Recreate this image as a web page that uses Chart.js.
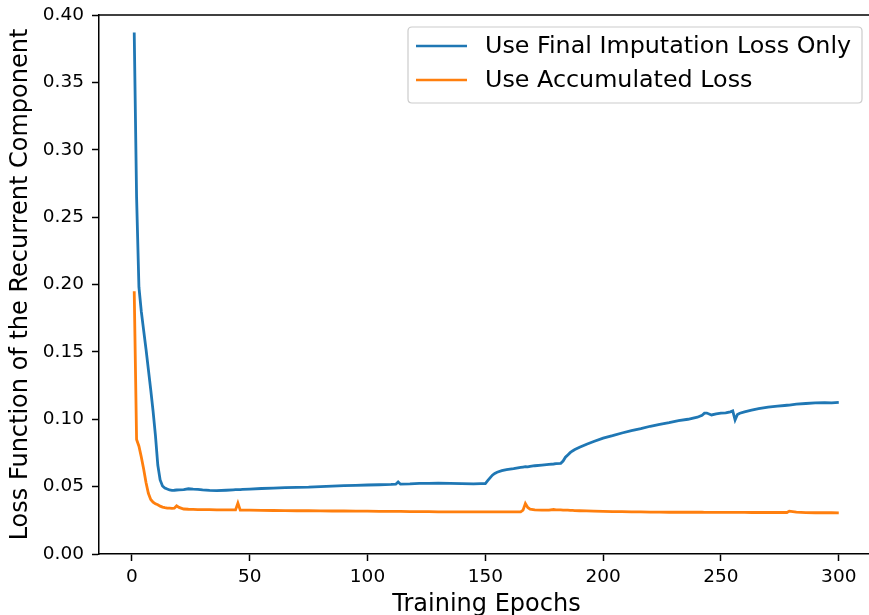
<!DOCTYPE html>
<html>
<head>
<meta charset="utf-8">
<script src="https://cdn.jsdelivr.net/npm/chart.js@4"></script>
<style>
html,body{margin:0;padding:0;background:#fff;overflow:hidden;}
#wrap{width:869px;height:615px;overflow:hidden;position:relative;}
canvas{display:block;}
</style>
</head>
<body>
<div id="wrap"><canvas id="c" width="880" height="640" style="width:880px;height:640px"></canvas></div>
<script>
const epochs = [1,2,3,4,5,6,7,8,9,10,11,12,13,14,15,16,17,18,19,20,22,24,26,28,30,33,36,40,43,44,45,46,47,50,55,60,65,70,75,80,85,90,95,100,105,110,112,113,114,118,122,126,130,135,140,145,148,150,151,152,153,154,155,157,159,162,165,166,167,168,169,171,174,177,179,180,182,183,184,185,186,187,188,190,193,196,200,204,208,212,216,220,224,228,232,236,240,242,243,244,246,248,250,252,254,255,256,257,258,260,263,266,270,274,277,278,279,282,286,290,294,297,300];

const finalLossOnly = [0.387,0.265,0.198,0.180,0.166,0.152,0.137,0.122,0.106,0.088,0.066,0.055,0.0505,0.049,0.0482,0.0475,0.0472,0.0473,0.0475,0.0476,0.0478,0.0484,0.0481,0.0480,0.0476,0.0472,0.0470,0.0473,0.0476,0.0477,0.0478,0.0478,0.0479,0.0482,0.0486,0.0489,0.0492,0.0495,0.0496,0.0500,0.0503,0.0507,0.0510,0.0512,0.0514,0.0516,0.0518,0.0535,0.0518,0.0520,0.0524,0.0524,0.0526,0.0524,0.0522,0.0521,0.0522,0.0523,0.0545,0.0565,0.0585,0.0598,0.0607,0.0618,0.0626,0.0633,0.0642,0.0645,0.0648,0.0646,0.0650,0.0655,0.0660,0.0665,0.0668,0.0670,0.0673,0.0690,0.0718,0.0735,0.0752,0.0765,0.0775,0.0792,0.0815,0.0835,0.0860,0.0878,0.0898,0.0916,0.0930,0.0948,0.0962,0.0975,0.0990,0.1000,0.1015,0.1030,0.1045,0.1046,0.1032,0.1040,0.1045,0.1048,0.1055,0.1062,0.0995,0.1035,0.1045,0.1055,0.1068,0.1078,0.1090,0.1097,0.1102,0.1104,0.1105,0.1112,0.1117,0.1122,0.1124,0.1122,0.1126];

const accumulatedLoss = [0.195,0.085,0.080,0.072,0.063,0.053,0.045,0.0405,0.0385,0.0372,0.0365,0.0355,0.0348,0.0344,0.0341,0.0340,0.0338,0.0340,0.0357,0.0346,0.0334,0.0332,0.0331,0.0330,0.0330,0.0329,0.0328,0.0328,0.0327,0.0327,0.0378,0.0326,0.0325,0.0325,0.0324,0.0323,0.0322,0.0321,0.0322,0.0320,0.0319,0.0319,0.0318,0.0318,0.0317,0.0317,0.0316,0.0316,0.0316,0.0315,0.0315,0.0314,0.0313,0.0313,0.0312,0.0312,0.0312,0.0312,0.0312,0.0312,0.0312,0.0312,0.0312,0.0312,0.0312,0.0312,0.0313,0.0325,0.0375,0.0345,0.0333,0.0328,0.0325,0.0325,0.0330,0.0328,0.0327,0.0326,0.0325,0.0325,0.0324,0.0323,0.0322,0.0321,0.0320,0.0318,0.0316,0.0315,0.0314,0.0313,0.0312,0.0311,0.0311,0.0310,0.0310,0.0310,0.0310,0.0310,0.0309,0.0309,0.0309,0.0309,0.0309,0.0309,0.0309,0.0309,0.0309,0.0309,0.0309,0.0309,0.0308,0.0308,0.0308,0.0308,0.0308,0.0308,0.0318,0.0310,0.0307,0.0306,0.0306,0.0306,0.0305,0.0305];

const seriesNames = ['Use Final Imputation Loss Only','Use Accumulated Loss'];
const seriesColors = ['#1f77b4','#ff7f0e'];
const xTicks = [0,50,100,150,200,250,300];
const yTicks = [0,0.05,0.10,0.15,0.20,0.25,0.30,0.35,0.40];

const FONT = "'DejaVu Sans', sans-serif";

const decor = {
  id:'decor',
  afterDraw(chart){
    const ctx = chart.ctx, a = chart.chartArea;
    ctx.save();
    // top spine
    ctx.strokeStyle = '#000'; ctx.lineWidth = 1.5;
    ctx.beginPath(); ctx.moveTo(a.left, a.top); ctx.lineTo(a.right, a.top); ctx.stroke();
    // legend box
    const bx = 408, by = 27, bw = 454, bh = 76, r = 4;
    ctx.beginPath();
    ctx.moveTo(bx+r,by); ctx.lineTo(bx+bw-r,by); ctx.quadraticCurveTo(bx+bw,by,bx+bw,by+r);
    ctx.lineTo(bx+bw,by+bh-r); ctx.quadraticCurveTo(bx+bw,by+bh,bx+bw-r,by+bh);
    ctx.lineTo(bx+r,by+bh); ctx.quadraticCurveTo(bx,by+bh,bx,by+bh-r);
    ctx.lineTo(bx,by+r); ctx.quadraticCurveTo(bx,by,bx+r,by); ctx.closePath();
    ctx.fillStyle = 'rgba(255,255,255,0.8)'; ctx.fill();
    ctx.strokeStyle = '#cccccc'; ctx.lineWidth = 1.2; ctx.stroke();
    ctx.font = '23.8px ' + FONT; ctx.textBaseline = 'middle'; ctx.textAlign = 'left';
    seriesNames.forEach((n,i)=>{
      const y = 46 + i*34;
      ctx.strokeStyle = seriesColors[i]; ctx.lineWidth = 2.6;
      ctx.beginPath(); ctx.moveTo(416,y); ctx.lineTo(467,y); ctx.stroke();
      ctx.fillStyle = '#000'; ctx.fillText(n, 485, y+1);
    });
    ctx.restore();
  }
};

new Chart(document.getElementById('c'), {
  type:'line',
  data:{
    datasets:[
      {label:seriesNames[0], data:epochs.map((e,i)=>({x:e,y:finalLossOnly[i]})), borderColor:seriesColors[0], borderWidth:2.8, pointRadius:0, tension:0, fill:false},
      {label:seriesNames[1], data:epochs.map((e,i)=>({x:e,y:accumulatedLoss[i]})), borderColor:seriesColors[1], borderWidth:2.8, pointRadius:0, tension:0, fill:false}
    ]
  },
  options:{
    responsive:false, animation:false, devicePixelRatio:1,
    layout:{padding:{top:15,right:6,left:0,bottom:0}},
    plugins:{legend:{display:false}, tooltip:{enabled:false}},
    scales:{
      x:{
        type:'linear', min:-13.95, max:314.95,
        afterBuildTicks(s){ s.ticks = xTicks.map(v=>({value:v})); },
        afterFit(s){ s.height = 86; },
        ticks:{font:{family:FONT,size:18.5}, color:'#000', padding:5, maxRotation:0, callback:v=>String(v)},
        grid:{display:true, drawOnChartArea:false, drawTicks:true, tickLength:7, tickWidth:1.5, color:'#000'},
        border:{display:true, color:'#000', width:1.5},
        title:{display:true, text:'Training Epochs', font:{family:FONT,size:24}, color:'#000', padding:{top:0,bottom:21}}
      },
      y:{
        type:'linear', min:0, max:0.40,
        afterBuildTicks(s){ s.ticks = yTicks.map(v=>({value:v})); },
        afterFit(s){ s.width = 99; s.paddingTop = 0; s.paddingBottom = 0; },
        ticks:{font:{family:FONT,size:18.5,lineHeight:0.8}, color:'#000', padding:8, callback:v=>Number(v).toFixed(2)},
        grid:{display:true, drawOnChartArea:false, drawTicks:true, tickLength:7, tickWidth:1.5, color:'#000'},
        border:{display:true, color:'#000', width:1.5},
        title:{display:true, text:'Loss Function of the Recurrent Component', font:{family:FONT,size:24}, color:'#000', padding:{top:6,bottom:0}}
      }
    }
  },
  plugins:[decor]
});
</script>
</body>
</html>
